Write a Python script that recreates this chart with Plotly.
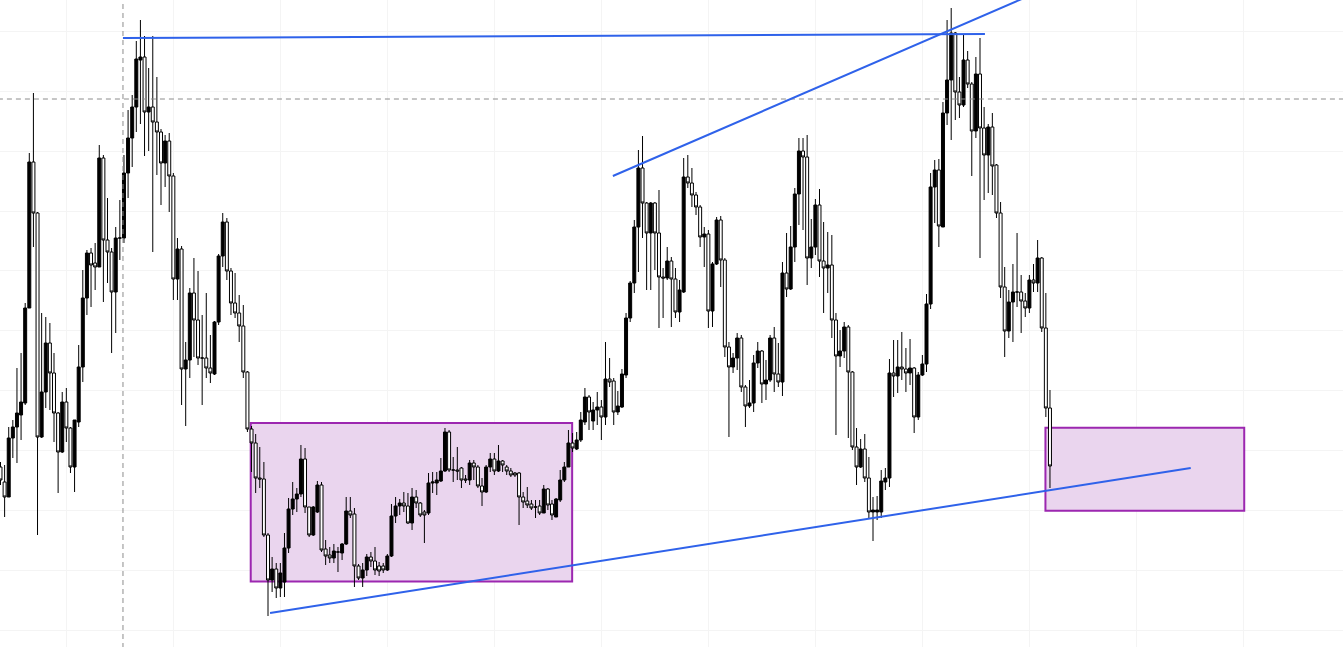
import plotly.graph_objects as go

TOP = 647  # price = TOP - depth

open_d = [467,482,497,438,427,415,403,308,162,213,437,392,343,373,413,452,402,428,467,422,
          367,298,253,263,267,158,240,252,292,238,238,173,138,107,60,57,112,107,122,132,
          163,141,176,279,249,369,360,293,320,358,358,368,374,322,256,222,271,303,313,326,
          372,429,443,478,479,535,580,569,588,582,548,509,499,494,459,507,535,512,485,549,
          555,558,552,553,544,511,514,566,578,570,557,561,566,566,570,556,516,506,503,506,
          523,497,503,512,513,483,483,481,471,432,470,470,468,479,480,463,467,486,492,467,
          459,471,461,467,471,473,473,497,501,504,507,506,513,489,504,517,500,480,467,443,
          449,440,422,397,421,410,407,417,379,381,412,407,375,318,283,227,168,203,233,203,
          233,277,278,261,279,312,292,177,183,195,207,237,234,311,264,220,260,347,367,358,
          338,387,406,403,363,351,384,380,338,374,382,273,289,247,194,151,157,258,247,205,
          261,268,265,320,356,351,327,372,447,467,449,478,512,512,512,482,478,373,376,367,
          369,373,368,417,375,364,304,187,170,227,113,80,33,92,105,60,84,131,74,128,
          155,127,165,213,287,331,302,292,292,301,308,280,283,258,328,408]
high_d = [462,465,427,420,368,353,303,153,93,212,313,317,323,353,412,392,388,427,420,345,
          270,250,248,243,145,155,198,248,227,200,155,110,95,41,20,36,68,36,77,129,
          135,133,173,238,246,342,288,258,271,315,293,335,321,254,213,218,268,273,295,305,
          371,426,434,447,462,533,557,563,563,533,498,482,488,445,448,507,506,481,482,540,
          547,544,547,543,497,497,508,564,563,554,552,547,562,563,554,504,497,499,492,493,
          488,490,502,510,473,472,472,458,428,430,457,447,467,475,460,460,465,478,465,453,
          453,445,460,465,468,472,472,492,487,500,500,500,485,488,500,498,470,462,430,433,
          432,412,388,395,402,392,400,342,358,378,391,369,313,281,220,150,136,202,202,202,
          190,268,247,257,268,280,158,155,168,192,205,227,230,262,217,216,258,342,353,333,
          335,385,380,355,342,350,360,335,327,343,262,233,226,188,138,138,135,219,199,189,
          222,232,235,313,330,322,325,371,428,439,434,457,497,496,470,468,359,340,340,332,
          348,339,367,372,355,294,173,160,159,102,20,8,32,77,35,51,82,57,38,107,
          124,113,164,202,267,290,264,233,275,293,275,264,240,257,293,390]
low_d = [485,517,497,458,463,440,405,308,247,535,438,408,410,442,493,453,442,473,492,427,
         382,315,307,290,267,302,283,353,333,260,243,198,167,132,124,156,151,252,175,205,
         187,212,300,300,405,426,378,357,365,405,378,383,375,325,267,280,315,318,342,378,
         432,472,493,488,537,616,592,598,597,597,553,515,512,497,513,537,536,513,552,565,
         563,563,572,560,545,518,587,580,587,576,567,575,576,573,571,557,523,515,512,524,
         530,508,517,543,515,493,495,482,472,472,482,480,488,483,485,480,488,506,493,472,
         475,472,472,475,477,477,525,508,508,510,518,515,513,510,520,517,502,482,467,452,
         450,442,425,430,430,425,440,425,387,425,415,408,378,322,293,272,238,290,290,270,
         328,318,280,327,318,322,293,188,207,215,247,267,328,327,265,287,357,437,373,370,
         392,427,408,412,368,403,400,382,392,387,396,297,290,262,225,230,285,268,255,277,
         313,293,338,435,367,358,438,450,485,468,482,518,541,520,518,490,487,397,393,380,
         392,385,433,420,376,372,309,223,247,227,125,140,120,118,107,88,176,138,258,200,
         193,195,218,298,357,338,342,307,333,317,313,292,292,332,417,488]
close_d = [480,497,438,427,413,402,308,162,213,437,392,343,373,413,452,402,428,467,420,367,
           298,253,265,267,158,240,252,292,238,238,173,138,107,59,57,112,107,122,132,163,
           141,176,279,249,369,360,293,320,358,358,368,373,322,256,222,271,303,313,326,372,
           429,443,478,479,535,580,569,588,573,548,509,499,494,459,507,535,507,485,550,556,
           558,551,552,544,511,515,566,578,570,557,561,570,571,570,556,516,506,503,506,523,
           497,503,515,515,483,482,480,471,432,470,470,471,480,480,463,467,486,492,467,459,
           471,461,465,471,475,475,497,502,505,508,507,513,489,505,515,499,480,467,443,448,
           440,420,397,412,410,407,417,379,382,412,406,374,318,283,227,168,203,233,203,233,
           277,278,261,279,312,290,177,183,195,207,237,234,311,264,220,260,347,367,358,338,
           387,406,403,363,351,384,380,338,374,382,273,289,247,194,151,157,258,247,205,261,
           268,265,320,356,351,327,372,447,467,449,478,512,510,510,481,478,373,376,367,369,
           373,368,417,375,364,304,187,170,226,113,80,33,92,105,60,84,131,74,128,155,
           127,166,213,287,331,302,292,292,301,308,280,283,258,328,408,466]

bars = list(range(len(open_d)))
opens = [TOP - v for v in open_d]
highs = [TOP - v for v in high_d]
lows = [TOP - v for v in low_d]
closes = [TOP - v for v in close_d]

# ---- Drawings (bar index, price)
top_line = ([29.76, 239.2], [609, 613])
channel_line = ([148.8, 250.4], [471, 652])
support_line = ([65.5, 289.2], [34, 179])
box1 = (60.8, 138.9, 65.5, 224)
box2 = (253.9, 302.2, 136.3, 219.3)
cross_x = 29.76
cross_y = 548
price_line = 181

BLUE = "#2f62ea"
PURPLE = "#9c27b0"
BOXFILL = "#ead5ee"

fig = go.Figure()

fig.add_trace(go.Candlestick(
    x=bars, open=opens, high=highs, low=lows, close=closes,
    increasing=dict(line=dict(color="black", width=1), fillcolor="black"),
    decreasing=dict(line=dict(color="black", width=1), fillcolor="white"),
    whiskerwidth=0, showlegend=False, hoverinfo="skip",
))

# crosshair
fig.add_trace(go.Scatter(x=[cross_x, cross_x], y=[-10, 700], mode="lines",
                         line=dict(color="#8c8c8c", width=1, dash="5px,4px"),
                         showlegend=False, hoverinfo="skip"))
fig.add_trace(go.Scatter(x=[-5, 340], y=[cross_y, cross_y], mode="lines",
                         line=dict(color="#8c8c8c", width=1, dash="5px,4px"),
                         showlegend=False, hoverinfo="skip"))

for xs, ys in (top_line, channel_line, support_line):
    fig.add_trace(go.Scatter(x=xs, y=ys, mode="lines",
                             line=dict(color=BLUE, width=2),
                             showlegend=False, hoverinfo="skip"))

for (x0, x1, y0, y1) in (box1, box2):
    fig.add_shape(type="rect", xref="x", yref="y", x0=x0, x1=x1, y0=y0, y1=y1,
                  fillcolor=BOXFILL, line=dict(color=PURPLE, width=2), layer="between")

fig.add_shape(type="line", xref="paper", yref="y", x0=0, x1=1, y0=price_line, y1=price_line,
              line=dict(color="white", width=1, dash="dot"), layer="between")

fig.update_layout(
    width=1343, height=647,
    margin=dict(l=0, r=0, t=0, b=0),
    paper_bgcolor="white", plot_bgcolor="white",
    showlegend=False,
    boxgap=0.15, boxgroupgap=0.15,
)
fig.update_xaxes(range=[-0.12, 326.2], showgrid=True, gridcolor="#f4f4f4", gridwidth=1,
                 tick0=16, dtick=26, showticklabels=False, zeroline=False,
                 rangeslider=dict(visible=False), showline=False, ticks="")
fig.update_yaxes(range=[0, 647], showgrid=True, gridcolor="#f4f4f4", gridwidth=1,
                 tick0=17, dtick=59.85, showticklabels=False, zeroline=False,
                 showline=False, ticks="")

fig.write_html("out.html", config={"displayModeBar": False},
               post_script="document.body.style.margin='0';document.body.style.overflow='hidden';")
